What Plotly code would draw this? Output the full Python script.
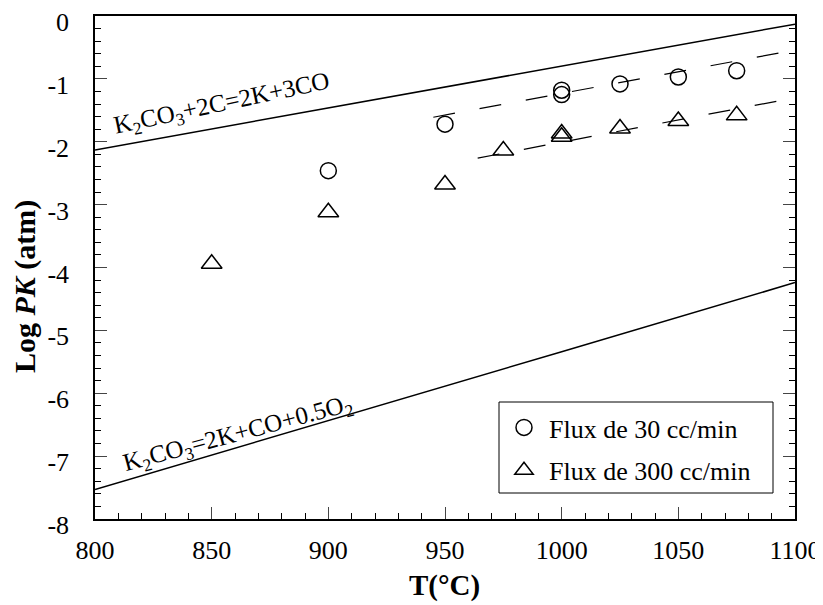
import plotly.graph_objects as go

# Data
T_30 = [900, 950, 1000, 1000, 1025, 1050, 1075]
logPK_30 = [-2.46, -1.72, -1.18, -1.25, -1.08, -0.97, -0.87]

T_300 = [850, 900, 950, 975, 1000, 1000, 1025, 1050, 1075]
logPK_300 = [-3.94, -3.12, -2.68, -2.14, -1.87, -1.92, -1.79, -1.67, -1.58]

T_eq = [800, 900, 1000, 1100]
logPK_eq_carbon = [-2.13, -1.46, -0.80, -0.13]       # K2CO3+2C=2K+3CO
logPK_eq_decomp = [-7.53, -6.44, -5.34, -4.24]       # K2CO3=2K+CO+0.5O2

T_fit30 = [945, 1093]
logPK_fit30 = [-1.61, -0.59]
T_fit300 = [964, 1093]
logPK_fit300 = [-2.26, -1.35]

y_ticks = [0, -1, -2, -3, -4, -5, -6, -7, -8]
y_ticktext = ["0", "-1", "-2", "-3", "-4", "-5", "-6", "-7", "-8"]
x_ticks = [800, 850, 900, 950, 1000, 1050, 1100]

FONT = "Liberation Serif"

fig = go.Figure()
fig.add_trace(go.Scatter(x=T_eq, y=logPK_eq_carbon, mode="lines",
                         line=dict(color="black", width=1.5), showlegend=False))
fig.add_trace(go.Scatter(x=T_eq, y=logPK_eq_decomp, mode="lines",
                         line=dict(color="black", width=1.5), showlegend=False))
fig.add_trace(go.Scatter(x=T_fit30, y=logPK_fit30, mode="lines",
                         line=dict(color="black", width=1.2, dash="22px,25px"), showlegend=False))
fig.add_trace(go.Scatter(x=T_fit300, y=logPK_fit300, mode="lines",
                         line=dict(color="black", width=1.2, dash="22px,25px"), showlegend=False))
fig.add_trace(go.Scatter(x=T_30, y=logPK_30, mode="markers", name="Flux de 30 cc/min",
                         legendgroup="a",
                         marker=dict(symbol="circle-open", size=16, color="black",
                                     line=dict(width=1.5))))
fig.add_trace(go.Scatter(x=T_300, y=logPK_300, mode="markers", name="Flux de 300 cc/min",
                         legendgroup="b",
                         marker=dict(symbol="triangle-up-open", size=18, color="black",
                                     line=dict(width=1.5))))

# page coordinates -> plot domain fractions (plot area 95..795 x 16..519 on the page)
def px_to_dom(px, py):
    return (px - 95) / 700, (519 - py) / 503

ax, ay = px_to_dom(222, 104)
fig.add_annotation(x=ax, y=ay, xref="x domain", yref="y domain", xanchor="center", yanchor="middle",
                   text="K<sub>2</sub>CO<sub>3</sub>+2C=2K+3CO", showarrow=False,
                   textangle=-12, font=dict(family=FONT, size=25, color="black"))
bx, by = px_to_dom(238, 434)
fig.add_annotation(x=bx, y=by, xref="x domain", yref="y domain", xanchor="center", yanchor="middle",
                   text="K<sub>2</sub>CO<sub>3</sub>=2K+CO+0.5O<sub>2</sub>", showarrow=False,
                   textangle=-15, font=dict(family=FONT, size=25, color="black"))
tx, ty = px_to_dom(25, 287)
fig.add_annotation(x=tx, y=ty, xref="x domain", yref="y domain", xanchor="center", yanchor="middle",
                   text="<b>Log <i>PK</i> (atm)</b>", showarrow=False, textangle=-90,
                   font=dict(family=FONT, size=30, color="black"))
xx, xy = px_to_dom(444, 585)
fig.add_annotation(x=xx, y=xy, xref="x domain", yref="y domain", xanchor="center", yanchor="middle",
                   text="<b>T(°C)</b>", showarrow=False,
                   font=dict(family=FONT, size=29, color="black"))

# legend frame
l0x, l0y = px_to_dom(499, 402)
l1x, l1y = px_to_dom(773, 493)
fig.add_shape(type="rect", xref="x domain", yref="y domain", x0=l0x, y0=l1y, x1=l1x, y1=l0y,
              line=dict(color="black", width=1), fillcolor="white", layer="below")

lx, ly = px_to_dom(499, 402)
# the page body has an 8px margin, so margins are compensated
fig.update_layout(
    width=823, height=605,
    margin=dict(l=87, r=36, t=8, b=94, autoexpand=False),
    paper_bgcolor="white", plot_bgcolor="white",
    font=dict(family=FONT, size=26, color="black"),
    legend=dict(x=lx, y=ly - 0.004, xanchor="left", yanchor="top",
                borderwidth=0, bgcolor="rgba(0,0,0,0)",
                font=dict(family=FONT, size=26), itemwidth=40,
                tracegroupgap=6),
    xaxis=dict(range=[800, 1100], tickvals=x_ticks, ticks="inside", ticklen=12,
               tickwidth=1, showline=True, linecolor="black", linewidth=1.5,
               mirror=True, showgrid=False, zeroline=False, automargin=False,
               ticklabelstandoff=7, ticklabeloverflow="allow",
               minor=dict(dtick=10, ticks="inside", ticklen=6, tickcolor="black", showgrid=False),
               tickfont=dict(family=FONT, size=26)),
    yaxis=dict(range=[-8, 0], tickvals=y_ticks, ticktext=y_ticktext, ticks="inside",
               ticklen=12, tickwidth=1, showline=True, linecolor="black", linewidth=1.5,
               mirror="allticks", showgrid=False, zeroline=False, automargin=False,
               ticklabelstandoff=19, ticklabelshift=6, ticklabeloverflow="allow",
               minor=dict(dtick=0.2, ticks="inside", ticklen=6, tickcolor="black", showgrid=False),
               tickfont=dict(family=FONT, size=26)),
)

fig.write_html("out.html")
